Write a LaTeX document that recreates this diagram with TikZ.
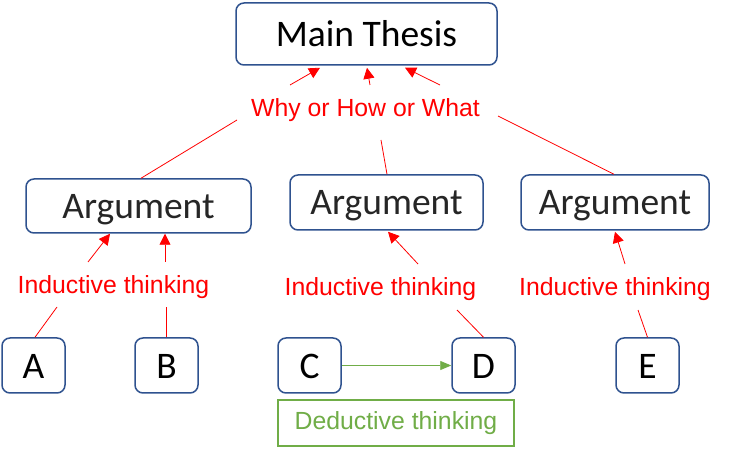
\documentclass[tikz,border=0pt]{standalone}
\usepackage{fontspec}
\setmainfont{Carlito}
\newfontfamily\arialf{Liberation Sans}
\usetikzlibrary{arrows.meta,calc}
\definecolor{boxblue}{HTML}{2F528F}
\definecolor{greenc}{HTML}{70AD47}
\definecolor{argtext}{HTML}{262626}
\begin{document}
\begin{tikzpicture}[x=1pt,y=-1pt,
  box/.style={draw=boxblue,line width=1.5pt,rounded corners=8pt,fill=white,inner sep=0pt,font=\fontsize{37.5}{40}\selectfont,text height=24.2pt,text depth=0pt},
  mainbox/.style={box,minimum width=261pt,minimum height=62pt},
  argbox/.style={box,text=argtext,minimum height=55pt},
  letterbox/.style={box,minimum width=63pt,minimum height=55pt},
  lbl/.style={text=red,font=\arialf\fontsize{24.8}{28}\selectfont,inner sep=0pt},
  redline/.style={draw=red,line width=0.8pt},
  redarrow/.style={redline,-{Triangle[length=11pt,width=11pt]}},
  greenarrow/.style={draw=greenc,line width=0.8pt,-{Triangle[length=11pt,width=9pt]}},
  dedbox/.style={draw=greenc,line width=1.5pt,text=greenc,font=\arialf\fontsize{24.8}{28}\selectfont,minimum width=236pt,minimum height=46pt,inner sep=0pt}
]
\useasboundingbox (0,0) rectangle (729,454);
\fill[white] (0,0) rectangle (729,454);
% nodes
\node[mainbox] (main) at (366.5,34) {Main Thesis};
\node[argbox,minimum width=225pt,minimum height=54pt] (arg1) at (138.5,206) {Argument};
\node[argbox,minimum width=193pt] (arg2) at (386.5,202.5) {Argument};
\node[argbox,minimum width=188pt] (arg3) at (615,202.5) {Argument};
\node[letterbox] (A) at (33.5,365.5) {\raisebox{-1pt}{A}};
\node[letterbox] (B) at (166.5,365.5) {\raisebox{-1pt}{B}};
\node[letterbox] (C) at (309.5,365.5) {\raisebox{-1pt}{C}};
\node[letterbox] (D) at (483.5,365.5) {\raisebox{-1pt}{D}};
\node[letterbox] (E) at (647.5,365.5) {\raisebox{-1pt}{E}};
\node[dedbox] (ded) at (396,423) {\raisebox{-2pt}{Deductive thinking}};
\node[lbl] (why) at (365.5,110) {Why or How or What};
\node[lbl] (ind1) at (113.5,287) {Inductive thinking};
\node[lbl] (ind2) at (380.5,289) {Inductive thinking};
\node[lbl] (ind3) at (615,289) {Inductive thinking};
% Why -> main thesis
\draw[redarrow] ($(why)+(-75.5,-25)$) -- ($(main.south)+(-46.5,2)$);
\draw[redarrow] ($(why)+(4.5,-25)$) -- ($(main.south)+(0.5,2)$);
\draw[redarrow] ($(why)+(74.5,-25)$) -- ($(main.south)+(38.5,2)$);
% arguments -> why
\draw[redline] ($(arg1.north)+(2.5,0)$) -- ($(why)+(-128.5,10)$);
\draw[redline] ($(arg2.north)+(0.5,0)$) -- ($(why)+(15.5,30)$);
\draw[redline] ($(arg3.north)+(-1,0)$) -- ($(why)+(132.5,6)$);
% inductive 1
\draw[redline] ($(A.north)+(1.5,0)$) -- ($(ind1)+(-56.5,20)$);
\draw[redline] ($(B.north)+(-0.5,0)$) -- ($(ind1)+(52.5,20)$);
\draw[redarrow] ($(ind1)+(-25.5,-25)$) -- ($(arg1.south)+(-28.5,0)$);
\draw[redarrow] ($(ind1)+(51.5,-25)$) -- ($(arg1.south)+(26.5,0)$);
% inductive 2
\draw[redline] (D.north) -- ($(ind2)+(76.5,21)$);
\draw[redarrow] ($(ind2)+(37.5,-25)$) -- ($(arg2.south)+(1.5,1)$);
% inductive 3
\draw[redline] (E.north) -- ($(ind3)+(23,21)$);
\draw[redarrow] ($(ind3)+(10,-25)$) -- ($(arg3.south)+(0,1)$);
% deductive
\draw[greenarrow] (C.east) -- (D.west);
\end{tikzpicture}
\end{document}
